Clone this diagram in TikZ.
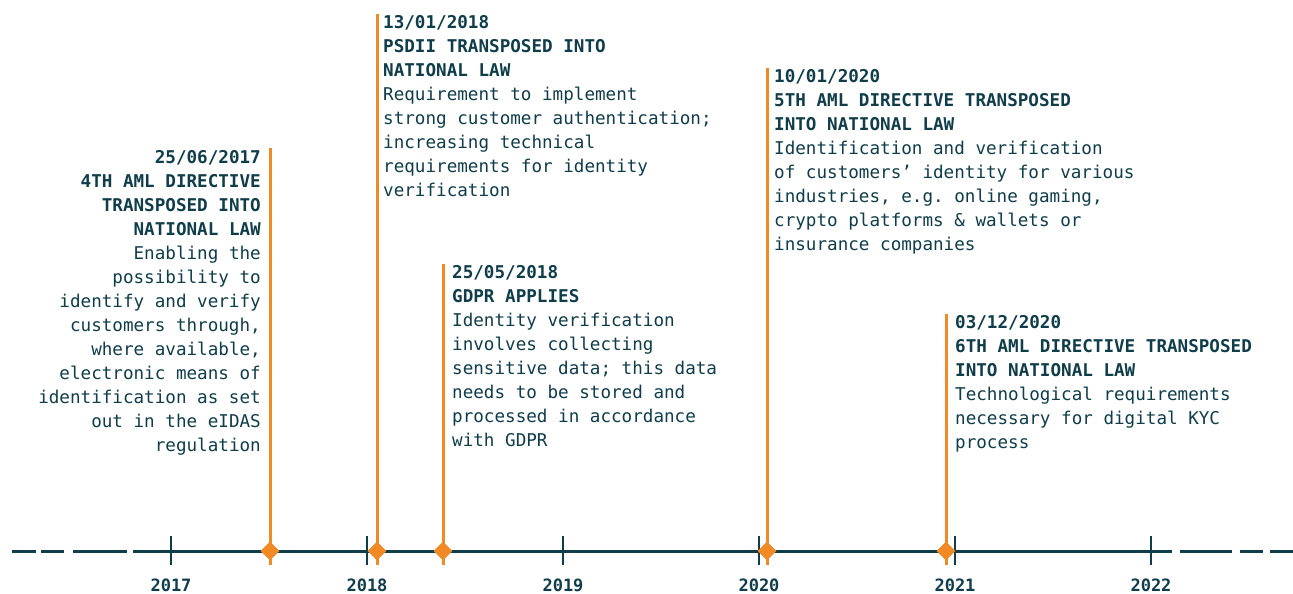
\documentclass[tikz,border=0pt]{standalone}
\usepackage{fontspec}
\setmonofont{DejaVu Sans Mono}
\usetikzlibrary{shapes.geometric}
\definecolor{ink}{HTML}{0F3D4A}
\definecolor{accent}{HTML}{F18A25}
\tikzset{
  axisline/.style={draw=ink, line width=3pt},
  tickmark/.style={draw=ink, line width=2.6pt},
  stem/.style={draw=accent, line width=3pt},
  milestone/.style={diamond, fill=accent, minimum size=19pt, inner sep=0pt},
  evtext/.style={inner sep=0pt, text=ink, font=\ttfamily\fontsize{17.6}{24}\selectfont},
  yearlabel/.style={inner sep=0pt, anchor=base, text=ink, font=\ttfamily\bfseries\fontsize{17}{20}\selectfont},
}
\begin{document}
\begin{tikzpicture}[x=1pt,y=-1pt]
\useasboundingbox (0,0) rectangle (1293,594);
\fill[white] (0,0) rectangle (1293,594);

% time axis with dashed ends
\coordinate (axL) at (133,551);
\coordinate (axR) at (1172,551);
\draw[axisline] (axL) -- (axR);
\draw[axisline] (12,551) -- (36,551);
\draw[axisline] (41,551) -- (64,551);
\draw[axisline] (73,551) -- (127,551);
\draw[axisline] (1180,551) -- (1232,551);
\draw[axisline] (1240,551) -- (1263,551);
\draw[axisline] (1270,551) -- (1293,551);

% year ticks and labels
\foreach \yr/\xx in {2017/171,2018/367,2019/563,2020/759,2021/955,2022/1151}{
  \coordinate (tt\yr) at (\xx,536);
  \coordinate (tb\yr) at (\xx,565);
  \draw[tickmark] (tt\yr) -- (tb\yr);
  \node[yearlabel] (y\yr) at (\xx,591) {\yr};
}

% milestone stems
\foreach \id/\xx/\top in {a/270/148,b/377/14,c/443/264,d/767/68,e/946/314}{
  \coordinate (st\id) at (\xx,\top);
  \coordinate (sb\id) at (\xx,565);
  \draw[stem] (st\id) -- (sb\id);
  \node[milestone] (m\id) at (\xx,551) {};
}

% milestone descriptions
\node[evtext, anchor=north east, align=right] (ta) at (261,146.6) {%
\strut\textbf{25/06/2017}\\
\textbf{4TH AML DIRECTIVE}\\
\textbf{TRANSPOSED INTO}\\
\textbf{NATIONAL LAW}\\
Enabling the\\
possibility to\\
identify and verify\\
customers through,\\
where available,\\
electronic means of\\
identification as set\\
out in the eIDAS\\
regulation};

\node[evtext, anchor=north west, align=left] (tb) at (383,11.6) {%
\strut\textbf{13/01/2018}\\
\textbf{PSDII TRANSPOSED INTO}\\
\textbf{NATIONAL LAW}\\
Requirement to implement\\
strong customer authentication;\\
increasing technical\\
requirements for identity\\
verification};

\node[evtext, anchor=north west, align=left] (tc) at (452,261.6) {%
\strut\textbf{25/05/2018}\\
\textbf{GDPR APPLIES}\\
Identity verification\\
involves collecting\\
sensitive data; this data\\
needs to be stored and\\
processed in accordance\\
with GDPR};

\node[evtext, anchor=north west, align=left] (td) at (774,65.6) {%
\strut\textbf{10/01/2020}\\
\textbf{5TH AML DIRECTIVE TRANSPOSED}\\
\textbf{INTO NATIONAL LAW}\\
Identification and verification\\
of customers’ identity for various\\
industries, e.g. online gaming,\\
crypto platforms \& wallets or\\
insurance companies};

\node[evtext, anchor=north west, align=left] (te) at (955,311.6) {%
\strut\textbf{03/12/2020}\\
\textbf{6TH AML DIRECTIVE TRANSPOSED}\\
\textbf{INTO NATIONAL LAW}\\
Technological requirements\\
necessary for digital KYC\\
process};
\end{tikzpicture}
\end{document}
